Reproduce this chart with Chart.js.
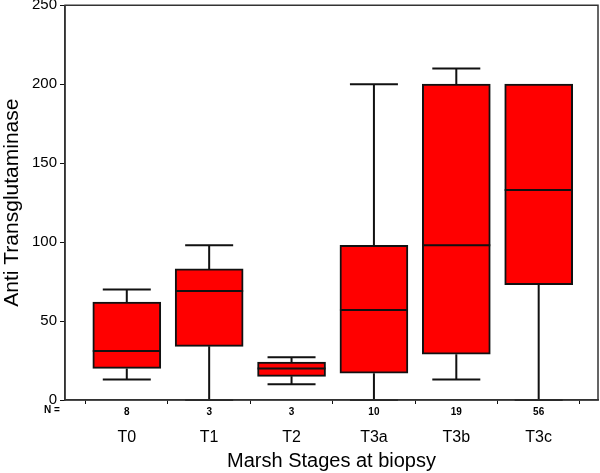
<!DOCTYPE html>
<html lang="en">
<head>
  <meta charset="UTF-8">
  <title>Anti Transglutaminase by Marsh stage</title>
  <script src="https://cdn.jsdelivr.net/npm/chart.js"></script>
  <style>
    body { margin: 0; background: #fff; }
    #wrap { width: 600px; height: 473px; }
  </style>
</head>
<body>
  <div id="wrap"><canvas id="chart"></canvas></div>
  <script>
    // values
    const stages = ['T0', 'T1', 'T2', 'T3a', 'T3b', 'T3c'];
    const nCounts = ['8', '3', '3', '10', '19', '56'];
    const mins    = [13, 0, 10, 0, 13, 0];
    const q1s     = [20, 34, 15, 17, 29, 73];
    const medians = [31, 69, 20, 57, 98, 133];
    const q3s     = [62, 83, 24, 98, 200, 200];
    const maxs    = [70, 98, 27, 200, 210, 200];
    const yTicks  = [0, 50, 100, 150, 200, 250];

    const boxData = stages.map((s, i) => ({ x: i, y: [q1s[i], q3s[i]] }));
    const catTicks = (axis) => { axis.ticks = stages.map((s, i) => ({ value: i })); };

    // whiskers, caps and medians
    const boxPlot = {
      id: 'boxPlot',
      afterDatasetsDraw(chart) {
        const ctx = chart.ctx, x = chart.scales.x, y = chart.scales.y;
        ctx.save();
        ctx.strokeStyle = '#111';
        ctx.lineWidth = 2;
        stages.forEach((s, i) => {
          const cx = x.getPixelForValue(i);
          ctx.beginPath();
          ctx.moveTo(cx, y.getPixelForValue(q3s[i]));
          ctx.lineTo(cx, y.getPixelForValue(maxs[i]));
          ctx.moveTo(cx, y.getPixelForValue(q1s[i]));
          ctx.lineTo(cx, y.getPixelForValue(mins[i]));
          if (maxs[i] > q3s[i]) {
            ctx.moveTo(cx - 24, y.getPixelForValue(maxs[i]));
            ctx.lineTo(cx + 24, y.getPixelForValue(maxs[i]));
          }
          ctx.moveTo(cx - 24, y.getPixelForValue(mins[i]));
          ctx.lineTo(cx + 24, y.getPixelForValue(mins[i]));
          ctx.moveTo(cx - 34, y.getPixelForValue(medians[i]));
          ctx.lineTo(cx + 34, y.getPixelForValue(medians[i]));
          ctx.stroke();
        });
        ctx.restore();
      },
      afterDraw(chart) {
        const ctx = chart.ctx, a = chart.chartArea;
        ctx.save();
        ctx.strokeStyle = '#333';
        ctx.lineWidth = 1.5;
        ctx.strokeRect(a.left, a.top, a.right - a.left, a.bottom - a.top);
        ctx.fillStyle = '#000';
        ctx.font = 'bold 10px "Liberation Sans", Arial, sans-serif';
        ctx.textAlign = 'left';
        ctx.textBaseline = 'middle';
        ctx.fillText('N =', 44, a.bottom + 10);
        ctx.restore();
      }
    };

    new Chart(document.getElementById('chart'), {
      type: 'bar',
      data: {
        datasets: [{
          data: boxData,
          backgroundColor: '#ff0000',
          borderColor: '#111',
          borderWidth: 2,
          borderSkipped: false,
          barThickness: 68
        }]
      },
      options: {
        responsive: true,
        maintainAspectRatio: false,
        animation: false,
        layout: { padding: { left: 0, right: 2, top: 2, bottom: 0 } },
        plugins: { legend: { display: false }, tooltip: { enabled: false } },
        scales: {
          x: {
            type: 'linear',
            min: -0.75,
            max: 5.72,
            offset: false,
            weight: 0,
            afterBuildTicks: catTicks,
            afterFit: (s) => { s.height = 20; },
            grid: { drawOnChartArea: false, drawTicks: true, tickLength: 4, color: '#111' },
            border: { display: true, color: '#333', width: 1.5 },
            ticks: {
              color: '#000',
              padding: 2,
              maxRotation: 0,
              autoSkip: false,
              font: { family: '"Liberation Sans", Arial, sans-serif', size: 10, weight: 'bold' },
              callback: (v, i) => nCounts[i]
            }
          },
          x2: {
            type: 'linear',
            position: 'bottom',
            min: -0.75,
            max: 5.72,
            offset: false,
            weight: 1,
            afterBuildTicks: catTicks,
            afterFit: (s) => { s.height = 53; },
            grid: { display: false },
            border: { display: false },
            ticks: {
              color: '#000',
              padding: 0,
              maxRotation: 0,
              autoSkip: false,
              font: { family: '"Liberation Sans Narrow", "Liberation Sans", Arial, sans-serif', size: 16 },
              callback: (v, i) => stages[i]
            },
            title: {
              display: true,
              text: 'Marsh Stages at biopsy',
              color: '#000',
              padding: { top: 0, bottom: 0 },
              font: { family: '"Liberation Sans", Arial, sans-serif', size: 20 }
            }
          },
          y: {
            min: 0,
            max: 250,
            afterBuildTicks: (axis) => { axis.ticks = yTicks.map(v => ({ value: v })); },
            afterFit: (s) => { s.width = 65; },
            grid: { drawOnChartArea: false, drawTicks: true, tickLength: 5, color: '#111' },
            border: { display: true, color: '#333', width: 1.5 },
            ticks: {
              color: '#000',
              padding: 3,
              font: { family: '"Liberation Sans", Arial, sans-serif', size: 15, lineHeight: 0.3 }
            },
            title: {
              display: true,
              text: 'Anti Transglutaminase',
              color: '#000',
              padding: { top: 0, bottom: 3 },
              font: { family: '"Liberation Sans", Arial, sans-serif', size: 21 }
            }
          }
        }
      },
      plugins: [boxPlot]
    });
  </script>
</body>
</html>
